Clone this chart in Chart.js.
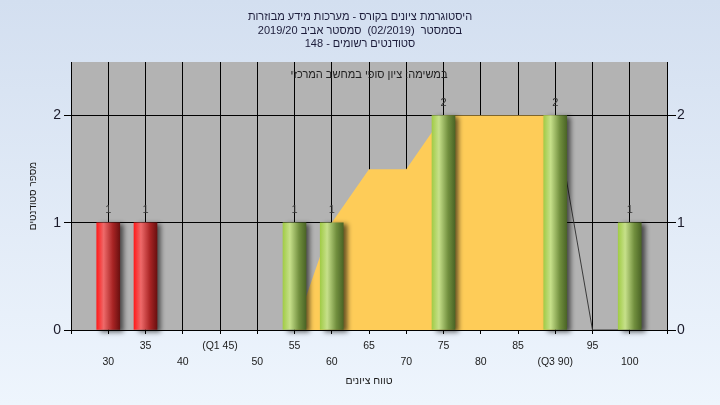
<!DOCTYPE html>
<html>
<head>
<meta charset="utf-8">
<script src="https://cdn.jsdelivr.net/npm/chart.js@4"></script>
<style>
  html, body { margin: 0; padding: 0; }
  body { width: 720px; height: 405px; background: linear-gradient(#d3dff0, #eef5fd); }
  #wrap { position: relative; width: 720px; height: 405px; }
</style>
</head>
<body>
<div id="wrap"><canvas id="gradeChart" width="720" height="405"></canvas></div>
<script>
// grade buckets (25 and 105 are only the empty edges of the axis)
const grades = ["25", "30", "35", "40", "45", "50", "55", "60", "65", "70", "75", "80", "85", "90", "95", "100", "105"];
const students = [null, 1, 1, 0, 0, 0, 1, 1, 0, 0, 2, 0, 0, 2, 0, 1, null];
const spread = [null, null, null, null, null, null, 0, 1, 1.5, 1.5, 2, 2, 2, 2, null, null, null];
const tail = [null, null, null, null, null, null, null, null, null, null, null, null, null, 2, 0, 0, null];
const quartiles = { "45": "(Q1 45)", "90": "(Q3 90)" };
const passGrade = 55;
const yTicks = [0, 1, 2];

const titleLines = [
    "היסטוגרמת ציונים בקורס - מערכות מידע מבוזרות",
    "בסמסטר  (02/2019)  סמסטר אביב 2019/20",
    "סטודנטים רשומים - 148",
];
const taskLine = "במשימה: ציון סופי במחשב המרכזי";

const font = "Arial, 'Liberation Sans', sans-serif";

/**
 * Cylinder look: bright left edge, light band, dark right edge
 */
function barGradient(context) {
    const chart = context.chart;
    const xScale = chart.scales.x;
    const fail = Number(grades[context.dataIndex]) < passGrade;
    if (!xScale || context.dataIndex === undefined) return fail ? "#c02020" : "#8cb048";
    const cx = xScale.getPixelForValue(context.dataIndex);
    if (!isFinite(cx)) return fail ? "#c02020" : "#8cb048";
    const g = chart.ctx.createLinearGradient(cx - 11.5, 0, cx + 11.5, 0);
    if (fail) {
        g.addColorStop(0, "#ff1c1c");
        g.addColorStop(0.3, "#ee6a6a");
        g.addColorStop(0.7, "#a82424");
        g.addColorStop(1, "#6c1010");
    } else {
        g.addColorStop(0, "#a2cc48");
        g.addColorStop(0.3, "#c6e08a");
        g.addColorStop(0.7, "#718f3e");
        g.addColorStop(1, "#4b6526");
    }
    return g;
}

const plotBack = {
    id: "plotBack",
    beforeDraw(chart) {
        const { ctx, chartArea: a } = chart;
        ctx.save();
        ctx.fillStyle = "#b3b3b3";
        ctx.fillRect(a.left, a.top, a.right - a.left, a.bottom - a.top);
        ctx.restore();
    },
    beforeDatasetDraw(chart, args) {
        if (args.index !== 0) return;
        const ctx = chart.ctx;
        ctx.save();
        ctx.shadowColor = "rgba(0, 0, 0, 0.6)";
        ctx.shadowBlur = 5;
        ctx.shadowOffsetX = 4;
        ctx.shadowOffsetY = 2;
    },
    afterDatasetDraw(chart, args) {
        if (args.index !== 0) return;
        chart.ctx.restore();
    },
    afterDraw(chart) {
        const { ctx } = chart;
        ctx.save();
        ctx.textAlign = "center";
        ctx.textBaseline = "middle";
        ctx.fillStyle = "#1c1c3a";
        ctx.font = "11px " + font;
        titleLines.forEach((line, i) => ctx.fillText(line, 360, 17 + i * 13.5));
        ctx.fillStyle = "#222";
        ctx.fillText(taskLine, 369, 75);

        // counts above the bars
        const meta = chart.getDatasetMeta(0);
        ctx.font = "11px " + font;
        ctx.fillStyle = "#333";
        meta.data.forEach((bar, i) => {
            const v = students[i];
            if (!v) return;
            ctx.fillText(String(v), bar.x, bar.y - 13);
        });
        ctx.restore();
    },
};

const ctx = document.getElementById("gradeChart").getContext("2d");
new Chart(ctx, {
    data: {
        labels: grades,
        datasets: [
            {
                type: "bar",
                data: students.map((v) => (v ? v : null)),
                backgroundColor: barGradient,
                borderWidth: 0,
                barThickness: 23,
                clip: false,
                order: 0,
            },
            {
                type: "line",
                data: tail,
                borderColor: "#3a3a3a",
                borderWidth: 1,
                pointRadius: 0,
                fill: false,
                tension: 0,
                order: 1,
            },
            {
                type: "line",
                data: spread,
                borderWidth: 0,
                borderColor: "rgba(0,0,0,0)",
                backgroundColor: "#fecc58",
                pointRadius: 0,
                fill: "origin",
                tension: 0,
                order: 2,
            },
        ],
    },
    plugins: [plotBack],
    options: {
        responsive: false,
        animation: false,
        layout: { padding: { top: 62, left: 0, right: 0, bottom: 0 } },
        plugins: {
            legend: { display: false },
            tooltip: { enabled: false },
            title: { display: false },
        },
        scales: {
            x: {
                type: "category",
                offset: false,
                border: { display: true, color: "#000", width: 1 },
                grid: { color: "#000", lineWidth: 1, offset: false, drawTicks: true, tickLength: 4, tickColor: "#000" },
                ticks: {
                    autoSkip: false,
                    maxRotation: 0,
                    padding: 4,
                    color: "#1a1a1a",
                    font: { family: font, size: 10.5, lineHeight: 1.52 },
                    callback(value, index) {
                        const g = grades[index];
                        if (index === 0 || index === grades.length - 1) return "";
                        const label = quartiles[g] || g;
                        return index % 2 === 1 ? ["", label] : [label];
                    },
                },
                title: {
                    display: true,
                    text: "טווח ציונים",
                    color: "#1a1a1a",
                    font: { family: font, size: 10.5 },
                    padding: { top: 0, bottom: 18 },
                },
                afterFit(scale) {
                    scale.height = 75;
                },
            },
            y: {
                position: "left",
                min: 0,
                max: 2.5,
                border: { display: true, color: "#000", width: 1 },
                grid: { color: "#000", lineWidth: 1, tickLength: 7, tickColor: "#000" },
                afterBuildTicks(scale) {
                    scale.ticks = yTicks.map((v) => ({ value: v }));
                },
                ticks: {
                    padding: 3,
                    color: "#1a1a2a",
                    font: { family: font, size: 14 },
                },
                title: {
                    display: true,
                    text: "מספר סטודנטים",
                    color: "#1a1a1a",
                    font: { family: font, size: 10 },
                    padding: { top: 27, bottom: 0 },
                },
                afterFit(scale) {
                    scale.width = 71;
                },
            },
            y2: {
                position: "right",
                min: 0,
                max: 2.5,
                border: { display: true, color: "#000", width: 1 },
                grid: { drawOnChartArea: false, tickLength: 9, tickColor: "#000" },
                afterBuildTicks(scale) {
                    scale.ticks = yTicks.map((v) => ({ value: v }));
                },
                ticks: {
                    padding: 1,
                    color: "#1a1a2a",
                    font: { family: font, size: 14 },
                },
                afterFit(scale) {
                    scale.width = 53;
                },
            },
        },
    },
});
</script>
</body>
</html>
